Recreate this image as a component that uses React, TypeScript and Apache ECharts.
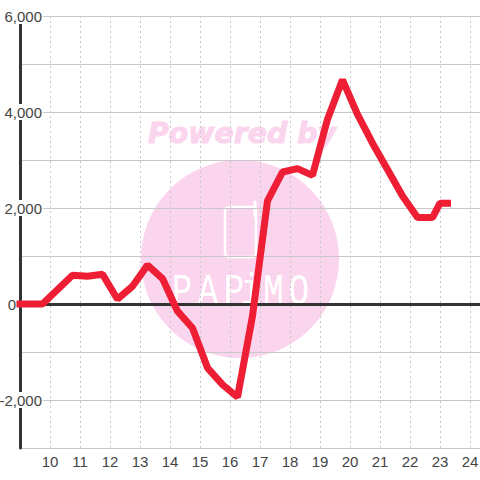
import React, { useEffect, useRef } from "react";
import * as echarts from "echarts";

const hours = [9, 9.75, 10.75, 11.25, 11.75, 12.25, 12.75, 13.25, 13.75, 14.25, 14.75, 15.25, 15.75, 16.25, 16.75, 17.25, 17.75, 18.25, 18.75, 19.25, 19.75, 20.25, 20.75, 21.25, 21.75, 22.25, 22.75, 23, 23.25];
const values = [0, 0, 600, 580, 620, 100, 370, 810, 530, -150, -500, -1330, -1680, -1940, -250, 2150, 2750, 2820, 2680, 3850, 4670, 3950, 3350, 2800, 2250, 1800, 1800, 2100, 2100];
const yLabels = [6000, 4000, 2000, 0, -2000];
const xLabels = [10, 11, 12, 13, 14, 15, 16, 17, 18, 19, 20, 21, 22, 23, 24];
const logoLetters = ["P", "A", "P", "i", "M", "O"];
const logoCentres = [182, 208, 234, 251, 273.5, 299];
const FONT = "'Liberation Sans', Arial, sans-serif";
const PINK = "#fbd5ee";

export default function App() {
  const ref = useRef<HTMLDivElement>(null);
  useEffect(() => {
    const chart = echarts.init(ref.current!, undefined, { renderer: "svg" });
    chart.setOption({
      animation: false,
      backgroundColor: "#ffffff",
      grid: { left: 20, right: 0, top: 16, bottom: 32, containLabel: false, outerBoundsMode: "none" },
      graphic: [
        { type: "circle", z: -10, shape: { cx: 240, cy: 259, r: 99 }, style: { fill: PINK } },
        {
          type: "text", z: -10, x: 148, y: 119,
          style: { text: "Powered by", font: "italic bold 28.4px 'DejaVu Sans'", fill: PINK, stroke: PINK, lineWidth: 1 },
        },
        {
          type: "rect", z: -9, shape: { x: 225, y: 207, width: 31, height: 50, r: 4 },
          style: { fill: "none", stroke: "#ffffff", lineWidth: 2.5 },
        },
        {
          type: "line", z: -9, shape: { x1: 255, y1: 202, x2: 255, y2: 216 },
          style: { stroke: "#ffffff", lineWidth: 3, lineCap: "round" },
        },
        ...logoLetters.map((ch, i) => ({
          type: "text", z: -9, x: logoCentres[i], y: 314, scaleY: 1.3,
          style: {
            text: ch, font: "34px 'Liberation Mono'", fill: "#ffffff",
            textAlign: "center", textVerticalAlign: "bottom",
          },
        })),
      ],
      xAxis: [
        {
          type: "value", min: 9, max: 9 + 460 / 30, interval: 1, position: "bottom",
          axisLine: { show: false, onZero: false },
          axisTick: { show: false },
          axisLabel: {
            margin: 6, fontSize: 15, fontFamily: FONT, color: "#444444",
            showMinLabel: false, showMaxLabel: false, hideOverlap: false,
            formatter: (v: number) => (xLabels.includes(v) ? String(v) : ""),
          },
          splitLine: { show: true, lineStyle: { color: "#c8c8c8", width: 1, type: [2, 3] } },
        },
        {
          type: "value", min: 9, max: 9 + 460 / 30, interval: 1, position: "bottom",
          axisLine: { show: true, onZero: true, lineStyle: { color: "#333333", width: 3 } },
          axisTick: { show: false },
          axisLabel: { show: false },
          splitLine: { show: false },
        },
      ],
      yAxis: {
        type: "value", min: -3000, max: 6000, interval: 1000, position: "left",
        axisLine: { show: true, onZero: false, lineStyle: { color: "#333333", width: 3 } },
        axisTick: { show: false },
        axisLabel: {
          inside: false, margin: -23, align: "right", fontSize: 15, fontFamily: FONT, color: "#444444",
          hideOverlap: false,
          formatter: (v: number) => {
            if (!yLabels.includes(v)) return "";
            if (v === 0) return "{z|0}";
            return "{b|" + v.toLocaleString("en-US") + "}";
          },
          rich: {
            b: { backgroundColor: "#ffffff", padding: [1, 1, 0, 1], fontSize: 15, fontFamily: FONT, color: "#444444" },
            z: { padding: [0, 27, 0, 0], fontSize: 15, fontFamily: FONT, color: "#444444" },
          },
        },
        splitLine: { show: true, lineStyle: { color: "#c8c8c8", width: 1 } },
      },
      series: [
        {
          type: "line",
          data: hours.map((h, i) => [h, values[i]]),
          symbol: "none",
          clip: false,
          smooth: false,
          lineStyle: { color: "#ee1f35", width: 7, cap: "square", join: "bevel" },
        },
      ],
    });
    return () => chart.dispose();
  }, []);
  return <div ref={ref} style={{ position: "absolute", left: 0, top: 0, width: 480, height: 480 }} />;
}
